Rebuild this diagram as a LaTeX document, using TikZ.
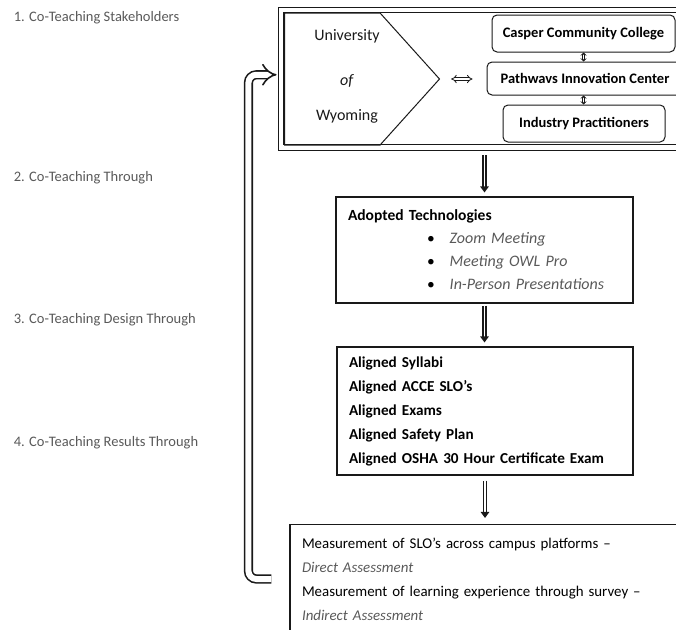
\documentclass[tikz,border=0pt]{standalone}
\usepackage{fontspec}
\setmainfont{Carlito}
\usetikzlibrary{calc,positioning,shapes.symbols,arrows.meta}
\definecolor{labgray}{RGB}{89,89,89}
\definecolor{ink}{RGB}{25,25,25}

\begin{document}
\begin{tikzpicture}[
	x=1pt, y=-1pt,
	line width=0.3mm,
	stagebox/.style={
		draw=ink,
		line width=1.1pt,
		inner xsep=12pt,
		inner ysep=0pt,
		align=left,
		text width=#1
	},
	orgbox/.style={
		draw=ink,
		rounded corners=5pt,
		line width=1pt,
		font=\fontsize{14.5}{17}\selectfont\bfseries
	},
	stagelabel/.style={anchor=west, text=labgray, font=\fontsize{14.5}{17}\selectfont},
	flow/.style={draw=ink, double=white, double distance=1.6pt, line width=1.3pt, -{Triangle[length=6pt,width=8.5pt]}},
	link/.style={draw=ink, double=white, double distance=1.4pt, line width=0.9pt, {Stealth[length=3pt,width=6pt]}-{Stealth[length=3pt,width=6pt]}},
	feedback/.style={draw=ink, double=white, double distance=6pt, line width=1.6pt, rounded corners=8pt, -{Implies[scale=1.5]}}
	]
	\useasboundingbox (0,0) rectangle (676,629);
	\clip (0,0) rectangle (676,629);

	% stage labels
	\node[stagelabel] (lab1) at (10,18) {1. Co-Teaching Stakeholders};
	\node[stagelabel] (lab2) at (10,178) {2. Co-Teaching Through};
	\node[stagelabel] (lab3) at (10,320) {3. Co-Teaching Design Through};
	\node[stagelabel] (lab4) at (10,443) {4. Co-Teaching Results Through};

	% stakeholders
	\node[draw=ink, double=white, double distance=4.5pt, line width=0.9pt, minimum width=409pt, minimum height=137.5pt] (stake) at (485.5,78.75) {};
	\node[signal, draw=ink, line width=1pt, signal to=east, signal pointer angle=96, minimum width=155pt, minimum height=132pt, anchor=west] (uw) at (284,79) {};
	\node[font=\fontsize{16}{20}\selectfont, align=center, text=ink] (uwtxt) at (347,76) {University\\[25pt]\textit{of}\\[15pt]Wyoming};
	\node[orgbox, minimum width=183pt, minimum height=37pt] (ccc) at (583.5,33.5) {Casper Community College};
	\node[orgbox, minimum width=196pt, minimum height=33pt] (pic) at (585,78.5) {Pathwavs Innovation Center};
	\node[orgbox, minimum width=162pt, minimum height=37pt] (ind) at (584,123.5) {Industry Practitioners};
	\draw[link] (ccc.south) -- (ccc.south |- pic.north);
	\draw[link] (pic.south -| ccc.south) -- (ccc.south |- ind.north);
	\draw[draw=ink, double=white, double distance=2pt, line width=0.8pt, {Implies}-{Implies}] ([xshift=11pt]uw.east) -- ([xshift=-14pt]pic.west |- uw.east);

	% technologies
	\node[stagebox=273pt, minimum height=106pt, font=\fontsize{15.5}{23}\selectfont] (tech) at (484.5,250) {\textbf{Adopted Technologies}\\
		\hspace*{79pt}\textbullet\hspace{15pt}\textcolor{labgray}{\textit{\fontsize{16}{23}\selectfont Zoom Meeting}}\\
		\hspace*{79pt}\textbullet\hspace{15pt}\textcolor{labgray}{\textit{\fontsize{16}{23}\selectfont Meeting OWL Pro}}\\
		\hspace*{79pt}\textbullet\hspace{15pt}\textcolor{labgray}{\textit{\fontsize{16}{23}\selectfont In-Person Presentations}}};

	% design
	\node[stagebox=272pt, minimum height=128pt, font=\fontsize{15.2}{24}\selectfont\bfseries] (align) at (485,411) {Aligned Syllabi\\
		Aligned ACCE SLO’s\\
		Aligned Exams\\
		Aligned Safety Plan\\
		Aligned OSHA 30 Hour Certificate Exam};

	% results
	\node[stagebox=376pt, minimum height=109pt, font=\fontsize{14.9}{24}\selectfont] (result) at (490,579) {Measurement of SLO’s across campus platforms –\\
		\textcolor{labgray}{\textit{Direct Assessment}}\\
		Measurement of learning experience through survey –\\
		\textcolor{labgray}{\textit{Indirect Assessment}}};

	% flow arrows
	\draw[flow, shorten <=7.5pt, shorten >=4pt] (stake.south -| tech.north) -- (tech.north);
	\draw[flow, shorten <=2pt, shorten >=4pt] (tech.south) -- (tech.south |- align.north);
	\draw[flow, shorten <=5pt, shorten >=6pt] (align.south) -- (align.south |- result.north);

	% feedback loop
	\draw[feedback] ([xshift=-18pt]result.west) -- ++(-23pt,0) |- ([xshift=-4pt,yshift=4pt]stake.west);
\end{tikzpicture}
\end{document}
